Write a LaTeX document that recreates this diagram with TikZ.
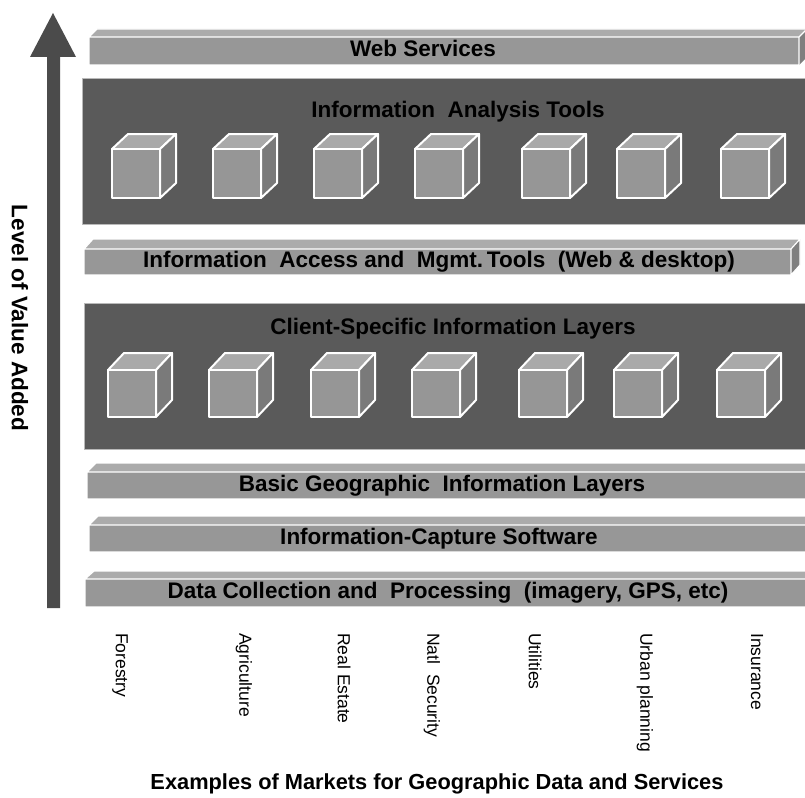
\documentclass[tikz,border=0pt]{standalone}
\usepackage{fontspec}
\setmainfont{Liberation Sans}
\definecolor{barfront}{HTML}{979797}
\definecolor{bartop}{HTML}{ABABAB}
\definecolor{barside}{HTML}{7F7F7F}
\definecolor{darkbox}{HTML}{5A5A5A}
\definecolor{cubefront}{HTML}{969696}
\definecolor{cubetop}{HTML}{A9A9A9}
\definecolor{cubeside}{HTML}{7A7A7A}
\definecolor{arrowgray}{HTML}{4B4B4B}
\begin{document}
\begin{tikzpicture}[x=1pt,y=-1pt,
  bartext/.style={font=\fontsize{22.5}{25}\selectfont\bfseries, inner sep=0pt},
  boxtitle/.style={font=\fontsize{22.5}{25}\selectfont\bfseries, inner sep=0pt},
  mkt/.style={font=\fontsize{17.5}{20}\selectfont, inner sep=0pt, rotate=-90, anchor=west},
  faceline/.style={draw=white, line width=1.2pt, line join=miter},
  cubeline/.style={draw=white, line width=2pt, line join=round},
  darkpanel/.style={fill=darkbox, draw=gray!55, line width=0.8pt}
]
\clip (0,0) rectangle (805,797);
\fill[white] (0,0) rectangle (805,797);

% ---- value arrow
\fill[arrowgray] (47,608) -- (47,57) -- (30,57) -- (53,13) -- (76,57) -- (60,57) -- (60,608) -- cycle;
\node[font=\fontsize{22.5}{25}\selectfont\bfseries, rotate=-90, inner sep=0pt] (lvl) at (20,318) {Level of Value Added};

% Web Services
\fill[bartop] (89,37) -- (97,29) -- (807,29) -- (799,37) -- cycle;
\fill[barside] (799,37) -- (807,29) -- (807,57) -- (799,65) -- cycle;
\fill[barfront] (89,37) rectangle (799,65);
\draw[faceline] (89,37) -- (97,29) -- (807,29) (799,37) -- (807,29) (89,37) rectangle (799,65);
\node[bartext] (web) at (423,48) {Web Services};

% Information Analysis panel
\filldraw[darkpanel] (82,78) rectangle (812,224);
\node[boxtitle] (analysis) at (458,112) {Information\ \ Analysis Tools};
\foreach \cx in {112,213,314,415,522,617,721}{
  \filldraw[cubeline, fill=cubetop] (\cx,149) -- (\cx+16,134) -- (\cx+64,134) -- (\cx+48,149) -- cycle;
  \filldraw[cubeline, fill=cubeside] (\cx+48,149) -- (\cx+64,134) -- (\cx+64,183) -- (\cx+48,198) -- cycle;
  \filldraw[cubeline, fill=cubefront] (\cx,149) rectangle (\cx+48,198);
}

% Information Access bar
\fill[bartop] (84,249) -- (93,239) -- (800,239) -- (791,249) -- cycle;
\fill[barside] (791,249) -- (800,239) -- (800,265) -- (791,275) -- cycle;
\fill[barfront] (84,249) rectangle (791,275);
\draw[faceline] (84,249) -- (93,239) -- (800,239) -- (800,265) -- (791,275) (791,249) -- (800,239) (84,249) rectangle (791,275);
\node[bartext] (access) at (439,262) {Information\ \ Access and\ \ Mgmt.\,Tools\ \ (Web \& desktop)};

% Client-Specific panel
\filldraw[darkpanel] (84,303) rectangle (812,449);
\node[boxtitle] (client) at (453,329) {Client-Specific Information Layers};
\foreach \cx in {108,209,311,412,519,614,717}{
  \filldraw[cubeline, fill=cubetop] (\cx,370) -- (\cx+16,353) -- (\cx+64,353) -- (\cx+48,370) -- cycle;
  \filldraw[cubeline, fill=cubeside] (\cx+48,370) -- (\cx+64,353) -- (\cx+64,400) -- (\cx+48,417) -- cycle;
  \filldraw[cubeline, fill=cubefront] (\cx,370) rectangle (\cx+48,417);
}

% Basic Geographic bar
\fill[bartop] (87,472) -- (96,463) -- (815,463) -- (806,472) -- cycle;
\fill[barfront] (87,472) rectangle (806,499);
\draw[faceline] (87,472) -- (96,463) -- (815,463) (87,472) rectangle (806,499);
\node[bartext] (basic) at (442,486) {Basic Geographic\ \ Information Layers};

% Information-Capture bar
\fill[bartop] (89,525) -- (98,516) -- (815,516) -- (806,525) -- cycle;
\fill[barfront] (89,525) rectangle (806,552);
\draw[faceline] (89,525) -- (98,516) -- (815,516) (89,525) rectangle (806,552);
\node[bartext] (capture) at (439,539) {Information-Capture Software};

% Data Collection bar
\fill[bartop] (85,579) -- (94,571) -- (815,571) -- (806,579) -- cycle;
\fill[barfront] (85,579) rectangle (806,607);
\draw[faceline] (85,579) -- (94,571) -- (815,571) (85,579) rectangle (806,607);
\node[bartext] (data) at (448,593) {Data Collection and\ \ Processing\ \ (imagery, GPS, etc)};

% ---- markets
\node[mkt] (m1) at (120,633) {Forestry};
\node[mkt] (m2) at (244,633) {Agriculture};
\node[mkt] (m3) at (344,633) {Real Estate};
\node[mkt] (m4) at (432,633) {Natl\ \ Security};
\node[mkt] (m5) at (535,633) {Utilities};
\node[mkt] (m6) at (645,633) {Urban planning};
\node[mkt] (m7) at (757,633) {Insurance};

\node[font=\fontsize{21.8}{24}\selectfont\bfseries, inner sep=0pt] (caption) at (437,784) {Examples of Markets for Geographic Data and Services};
\end{tikzpicture}
\end{document}
